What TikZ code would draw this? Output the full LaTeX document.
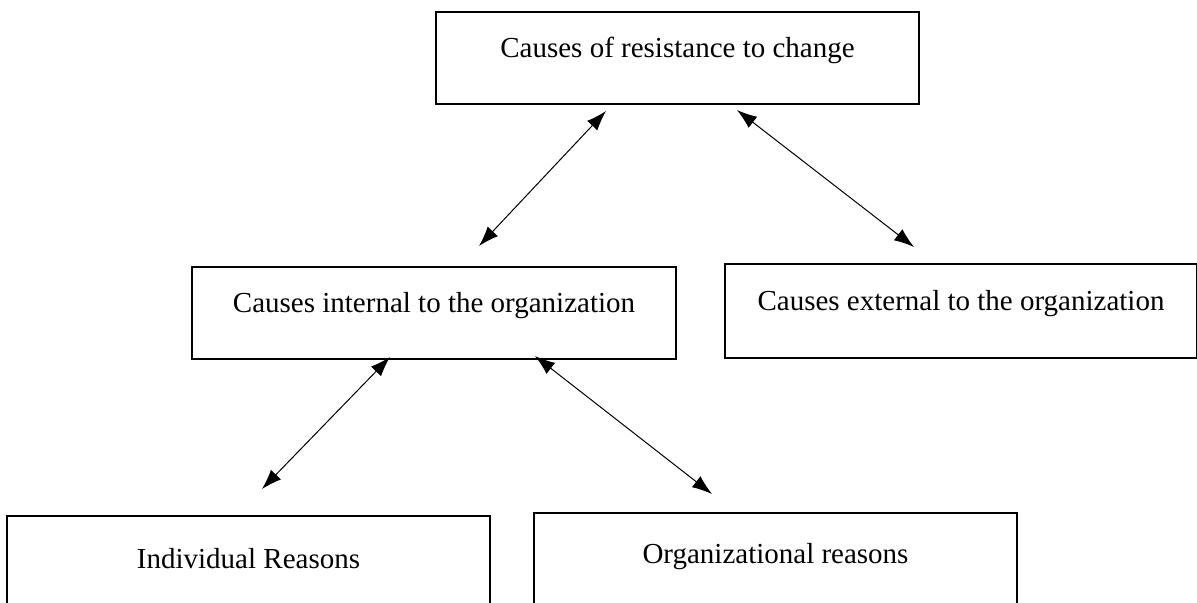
\documentclass[tikz,border=0pt]{standalone}
\usepackage{fontspec}
\setmainfont{Liberation Serif}
\usetikzlibrary{arrows.meta,calc}

\begin{document}
\begin{tikzpicture}[x=0.5pt,y=-0.5pt,
	causebox/.style={draw,line width=1pt,inner sep=0pt,anchor=north west,font=\fontsize{14.5}{17}\selectfont},
	link/.style={line width=0.5pt,{Latex[length=10pt,width=7pt]}-{Latex[length=10pt,width=7pt]}}]
	
	\useasboundingbox (0,0) rectangle (1197,602);
	\clip (0,0) rectangle (1197,602);
	
	\node[causebox,minimum width=241.5pt,text height=22.5pt,text depth=23.5pt] (resist) at (435,11) {Causes of resistance to change};
	
	\node[causebox,minimum width=242pt,text height=22.5pt,text depth=23.5pt] (internal) at (191,266) {Causes internal to the organization};
	\node[causebox,minimum width=236pt,text height=23pt,text depth=24pt] (external) at (724,263) {Causes external to the organization};
	
	\node[causebox,minimum width=241.5pt,text height=26pt,text depth=20pt] (individual) at (6,515) {Individual Reasons};
	\node[causebox,minimum width=241.5pt,text height=25pt,text depth=21pt] (organizational) at (533,512) {Organizational reasons};
	
	\draw[link] ($(resist.south west)+(171,6)$) -- ($(internal.north west)+(288,-20)$);
	\draw[link] ($(resist.south west)+(302,5)$) -- ($(external.north west)+(190,-16)$);
	
	\draw[link] ($(internal.south west)+(199,-3)$) -- ($(individual.north west)+(256,-26)$);
	\draw[link] ($(internal.south west)+(344,-4)$) -- ($(organizational.north west)+(179,-18)$);
	
\end{tikzpicture}
\end{document}
